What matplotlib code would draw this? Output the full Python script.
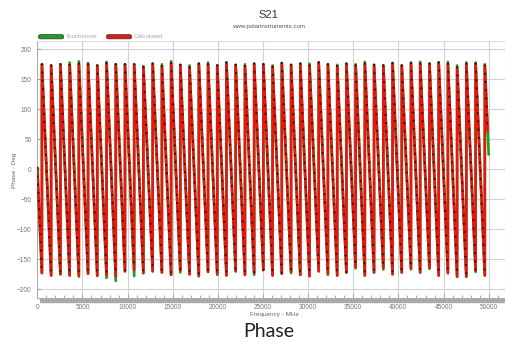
import matplotlib
matplotlib.use("Agg")
import matplotlib.pyplot as plt
from matplotlib.collections import LineCollection
from matplotlib.patches import Rectangle, FancyBboxPatch
import numpy as np

plt.rcParams['font.family'] = ['Liberation Sans', 'DejaVu Sans']

# frequencies (MHz) where the phase wraps from -180 back to +180
wrap_freq = [510, 1530, 2560, 3580, 4600, 5620, 6640, 7670, 8690, 9710,
             10730, 11750, 12780, 13800, 14820, 15840, 16860, 17890, 18910, 19930,
             20950, 21970, 23000, 24020, 25040, 26060, 27080, 28110, 29130, 30150,
             31170, 32190, 33220, 34240, 35260, 36280, 37300, 38330, 39350, 40370,
             41390, 42410, 43440, 44460, 45480, 46500, 47520, 48550, 49570]

# Calculated: last sample before each wrap / first sample after it (deg)
calc_bottom = [-173, -177, -175, -177, -177, -174, -177, -176, -178, -170,
               -168, -173, -170, -172, -176, -169, -175, -178, -171, -174,
               -177, -170, -176, -173, -168, -177, -174, -171, -176, -178,
               -170, -174, -177, -172, -163, -177, -172, -165, -175, -172,
               -165, -172, -164, -177, -173, -179, -179, -169, -177]
calc_top = [175, 173, 175, 174, 176, 175, 173, 177, 175, 175,
            175, 170, 176, 172, 177, 174, 170, 176, 175, 173,
            178, 174, 172, 176, 175, 171, 177, 174, 176, 173,
            178, 175, 172, 176, 173, 176, 174, 173, 177, 173,
            177, 176, 176, 178, 176, 170, 176, 176, 173]

# Touchstone
ts_bottom = [-173, -177, -175, -177, -179, -174, -178, -181, -186, -170,
             -178, -173, -170, -172, -176, -172, -175, -178, -171, -176,
             -177, -170, -176, -176, -168, -177, -174, -173, -176, -178,
             -170, -176, -177, -172, -165, -177, -172, -167, -175, -172,
             -167, -172, -166, -177, -173, -179, -179, -171, -177]
ts_top = [175, 173, 175, 178, 180, 177, 173, 179, 175, 175,
          175, 172, 176, 175, 180, 174, 173, 176, 178, 173,
          178, 174, 175, 176, 175, 173, 177, 174, 176, 176,
          178, 175, 174, 176, 175, 179, 174, 173, 177, 173,
          178, 179, 176, 178, 179, 173, 178, 178, 175]

start_phase = {'calc': 2, 'ts': 0}
end_freq = {'calc': 49880, 'ts': 50000}
end_phase = {'calc': 65, 'ts': 25}


def build(bottom, top, p0, f_end, p_end):
    xs, ys = [0], [p0]
    slants = []
    prev = (0, p0)
    for f, b, t in zip(wrap_freq, bottom, top):
        xs += [f, f]
        ys += [b, t]
        slants.append([prev, (f, b)])
        prev = (f, t)
    xs.append(f_end)
    ys.append(p_end)
    slants.append([prev, (f_end, p_end)])
    return xs, ys, slants


fig = plt.figure(figsize=(5.05, 3.48), dpi=100)
ax = fig.add_axes([0.0739, 0.1437, 0.9261, 0.7385])

ts_x, ts_y, ts_sl = build(ts_bottom, ts_top, start_phase['ts'], end_freq['ts'], end_phase['ts'])
ca_x, ca_y, ca_sl = build(calc_bottom, calc_top, start_phase['calc'], end_freq['calc'], end_phase['calc'])

ax.plot(ts_x, ts_y, color='#1f9e22', lw=1.9, zorder=3)
ax.plot(ca_x, ca_y, color='#e5170f', lw=1.9, zorder=4)
# sample markers along the slopes
lc = LineCollection(ca_sl, colors='#1a1a1a', linewidths=1.6,
                    linestyles=[(0, (0.01, 3.7))], capstyle='round', zorder=5)
ax.add_collection(lc)

ax.set_xlim(0, 51805)
ax.set_ylim(-214.5, 213.8)
ax.set_xticks(np.arange(0, 50001, 5000))
ax.set_xticks(np.arange(0, 51001, 1000), minor=True)
ax.set_yticks(np.arange(-200, 201, 50))
ax.grid(True, which='major', color='#d2d2d2', lw=0.8)
ax.set_axisbelow(True)
ax.tick_params(axis='both', which='major', labelsize=4.7, labelcolor='#777777',
               color='#999999', direction='in', length=3, width=0.6, pad=4)
ax.tick_params(axis='x', which='minor', color='#999999', direction='in', length=2, width=0.6)
for s in ('top', 'right'):
    ax.spines[s].set_color('#dddddd')
for s in ('left', 'bottom'):
    ax.spines[s].set_color('#aaaaaa')
    ax.spines[s].set_linewidth(0.7)

# scrollbar under the x axis
fig.patches.append(Rectangle((40 / 505, 1 - 302 / 348), 1 - 40 / 505, 3 / 348,
                             transform=fig.transFigure, color='#a9a9a9', zorder=1))

# legend
for x0, col, lab in [(39, '#1f9e22', 'Touchstone'), (107, '#e5170f', 'Calculated')]:
    fig.patches.append(FancyBboxPatch((x0 / 505, 1 - 38.5 / 348), 24 / 505, 3.5 / 348,
                                      boxstyle='round,pad=0.001,rounding_size=0.004',
                                      transform=fig.transFigure, facecolor=col,
                                      edgecolor='#333333', lw=0.5))
    fig.text((x0 + 27) / 505, 1 - 36.8 / 348, lab, fontsize=4.5, color='#aaaaaa', va='center')

fig.text(0.531, 0.957, 'S21', fontsize=8, color='#333333', ha='center', va='center')
fig.text(0.531, 0.925, 'www.polarinstruments.com', fontsize=4.4, color='#555555',
         ha='center', va='center')
fig.text(0.028, 0.511, 'Phase - Deg', fontsize=4.6, color='#666666', rotation=90,
         ha='center', va='center')
fig.text(0.5426, 0.095, 'Frequency - MHz', fontsize=4.6, color='#666666',
         ha='center', va='center')
fig.text(0.533, 0.047, 'Phase', fontsize=14, color='#222222', ha='center', va='center',
         family=['Lato', 'DejaVu Sans'])

fig.savefig('out.png', dpi=100)
